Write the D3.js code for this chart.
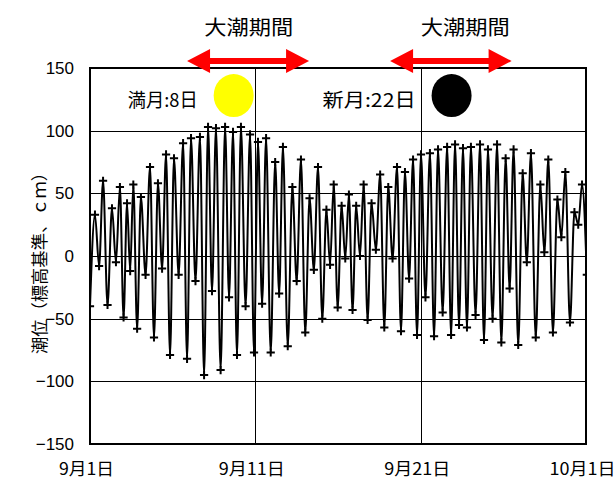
<!DOCTYPE html>
<html><head><meta http-equiv="Content-Type" content="text/html; charset=UTF-8"><style>
body { margin: 0; background: #fff; }
text { font-family: "Noto Sans CJK JP", sans-serif; fill: #000; }
.num { font-family: "Liberation Sans", sans-serif; }
.grid line { stroke: #000; shape-rendering: crispEdges; }
</style>
</head>
<body>
<svg width="616" height="481"></svg>
<script src="https://cdn.jsdelivr.net/npm/d3@7"></script>
<script>

// days counted from 9/1 0:00
var dateTicks = [0, 10, 20, 30];
var dateLabels = ["9月1日", "9月11日", "9月21日", "10月1日"];
var levelTicks = [-150, -100, -50, 0, 50, 100, 150];

// high waters (day, cm)
var highDays = [0.30, 0.79, 1.33, 1.81, 2.24, 2.62, 3.08, 3.63, 4.11, 4.60,
                5.08, 5.63, 6.11, 6.65, 7.14, 7.62, 8.17, 8.65, 9.13, 9.68,
                10.16, 10.65, 11.20, 11.67, 12.24, 12.76, 13.28, 13.79, 14.30, 14.74,
                15.22, 15.66, 16.10, 16.55, 17.03, 17.55, 18.04, 18.57, 19.05, 19.54,
                20.02, 20.56, 21.05, 21.60, 22.08, 22.56, 23.04, 23.59, 24.07, 24.62,
                25.14, 25.62, 26.17, 26.67, 27.24, 27.72, 28.27, 28.75, 29.30, 29.76];
var highLevels = [33, 60, 38, 55, 42, 57, 47, 71, 58, 81,
                  78, 90, 94, 95, 103, 102, 103, 99, 103, 97,
                  91, 94, 75, 87, 55, 77, 46, 71, 37, 57,
                  40, 49, 40, 57, 42, 65, 55, 71, 67, 77,
                  81, 82, 85, 87, 89, 86, 87, 89, 85, 89,
                  78, 85, 66, 82, 57, 77, 45, 67, 35, 57];

// low waters (day, cm)
var lowDays = [0.00, 0.55, 1.06, 1.57, 2.03, 2.43, 2.85, 3.36, 3.87, 4.36,
               4.84, 5.36, 5.87, 6.38, 6.90, 7.38, 7.90, 8.41, 8.89, 9.41,
               9.92, 10.41, 10.93, 11.44, 11.96, 12.50, 13.02, 13.54, 14.05, 14.52,
               14.98, 15.44, 15.88, 16.33, 16.79, 17.29, 17.80, 18.30, 18.81, 19.30,
               19.78, 20.29, 20.81, 21.33, 21.84, 22.32, 22.80, 23.32, 23.83, 24.35,
               24.88, 25.38, 25.90, 26.42, 26.96, 27.48, 28.00, 28.51, 29.03, 29.53,
               30.05];
var lowLevels = [-40, -8, -39, -5, -49, -12, -58, -15, -65, -10,
                 -79, -15, -82, -20, -95, -28, -91, -33, -79, -40,
                 -77, -38, -77, -30, -72, -20, -61, -11, -50, -7,
                 -41, -2, -43, 0, -51, 5, -57, -2, -60, -18,
                 -63, -33, -64, -45, -63, -55, -57, -47, -67, -50,
                 -69, -26, -71, -5, -65, 3, -61, 15, -53, 25,
                 -15];

// spring tide periods (day from, day to) and label positions
var springPeriods = [[5.87, 13.25], [18.15, 25.5]];
var springLabelDays = [9.6, 22.7];
var springLabel = "大潮期間";

var moonLabels = ["満月:8日", "新月:22日"];
var moonDays = [8.69, 21.87];
var moonColors = ["#ffff00", "#000000"];
var moonLevel = 128;

var svg = d3.select("svg"),
    margin = {top: 68, right: 30, bottom: 37, left: 90},
    width = +svg.attr("width") - margin.left - margin.right,
    height = +svg.attr("height") - margin.top - margin.bottom,
    g = svg.append("g").attr("transform", "translate(" + margin.left + "," + margin.top + ")");

var x = d3.scaleLinear().domain([0, 30]).range([0, width]);
var y = d3.scaleLinear().domain([-150, 150]).range([height, 0]);

var tides = highDays.map(function(d, i) { return {day: d, level: highLevels[i]}; })
    .concat(lowDays.map(function(d, i) { return {day: d, level: lowLevels[i]}; }))
    .sort(function(a, b) { return a.day - b.day; });

svg.append("defs").append("clipPath").attr("id", "plot")
  .append("rect").attr("width", width).attr("height", height);

// grid
g.append("g")
    .attr("class", "grid")
    .attr("transform", "translate(0," + height + ")")
    .call(d3.axisBottom(x).tickValues(dateTicks).tickSize(-height).tickFormat(""))
    .call(function(s) { s.select(".domain").remove(); });

g.append("g")
    .attr("class", "grid")
    .call(d3.axisLeft(y).tickValues(levelTicks).tickSize(-width).tickFormat(""))
    .call(function(s) { s.select(".domain").remove(); });

// tide curve
var line = d3.line()
    .curve(d3.curveMonotoneX)
    .x(function(d) { return x(d.day); })
    .y(function(d) { return y(d.level); });

var plot = g.append("g").attr("clip-path", "url(#plot)");

plot.append("path")
    .datum(tides)
    .attr("fill", "none")
    .attr("stroke", "#000")
    .attr("stroke-width", 2)
    .attr("d", line);

plot.selectAll(".mk")
    .data(tides)
  .enter().append("path")
    .attr("class", "mk")
    .attr("transform", function(d) { return "translate(" + x(d.day) + "," + y(d.level) + ")"; })
    .attr("d", d3.symbol(d3.symbolPlus || d3.symbolCross, 24))
    .attr("fill", "none")
    .attr("stroke", "#000")
    .attr("stroke-width", 2);

g.append("rect")
    .attr("width", width)
    .attr("height", height)
    .attr("fill", "none")
    .attr("stroke", "#000")
    .attr("stroke-width", 1.5)
    .attr("shape-rendering", "crispEdges");

// axes labels
g.append("g")
    .call(d3.axisLeft(y).tickValues(levelTicks).tickSize(0).tickPadding(16))
    .call(function(s) {
      s.select(".domain").remove();
      s.selectAll("text").attr("class", "num").attr("font-size", 17).attr("font-family", null);
    });

var dateWidths = [55, 66, 66, 66];
g.append("g")
    .attr("transform", "translate(0," + height + ")")
    .call(d3.axisBottom(x).tickValues(dateTicks).tickSize(0).tickPadding(19)
      .tickFormat(function(d, i) { return dateLabels[i]; }))
    .call(function(s) {
      s.select(".domain").remove();
      s.selectAll("text")
          .attr("font-size", 17)
          .attr("font-family", null)
          .attr("dx", -4)
          .attr("textLength", function(d, i) { return dateWidths[i]; })
          .attr("lengthAdjust", "spacingAndGlyphs");
    });

svg.append("text")
    .attr("transform", "translate(40,259) rotate(-90)")
    .attr("text-anchor", "middle")
    .attr("dy", "0.35em")
    .attr("font-size", 17)
    .attr("textLength", 190)
    .attr("lengthAdjust", "spacingAndGlyphs")
    .text("潮位（標高基準、ｃｍ）");

// spring tide arrows
var arrows = svg.append("g").attr("fill", "#ff0000");
springPeriods.forEach(function(p) {
  var x0 = margin.left + x(p[0]), x1 = margin.left + x(p[1]), cy = 61, hl = 23, hw = 12, sw = 3;
  arrows.append("path")
      .attr("d", "M" + x0 + "," + cy + "L" + (x0 + hl) + "," + (cy - hw) + "V" + (cy - sw) +
        "H" + (x1 - hl) + "V" + (cy - hw) + "L" + x1 + "," + cy + "L" + (x1 - hl) + "," + (cy + hw) +
        "V" + (cy + sw) + "H" + (x0 + hl) + "V" + (cy + hw) + "Z");
});

svg.selectAll(".spring")
    .data(springLabelDays)
  .enter().append("text")
    .attr("class", "spring")
    .attr("x", function(d) { return margin.left + x(d); })
    .attr("y", 35)
    .attr("text-anchor", "middle")
    .attr("font-size", 20)
    .attr("textLength", 89)
    .attr("lengthAdjust", "spacingAndGlyphs")
    .text(springLabel);

// moon phases
var moonWidths = [70, 93];
var moons = g.selectAll(".moon")
    .data(moonDays)
  .enter().append("g")
    .attr("class", "moon")
    .attr("transform", function(d) { return "translate(" + x(d) + "," + y(moonLevel) + ")"; });

moons.append("ellipse")
    .attr("rx", 20)
    .attr("ry", 21.5)
    .attr("fill", function(d, i) { return moonColors[i]; });

moons.append("text")
    .attr("x", -36)
    .attr("y", 11)
    .attr("text-anchor", "end")
    .attr("font-size", 19)
    .attr("textLength", function(d, i) { return moonWidths[i]; })
    .attr("lengthAdjust", "spacingAndGlyphs")
    .text(function(d, i) { return moonLabels[i]; });

</script>
</body></html>
